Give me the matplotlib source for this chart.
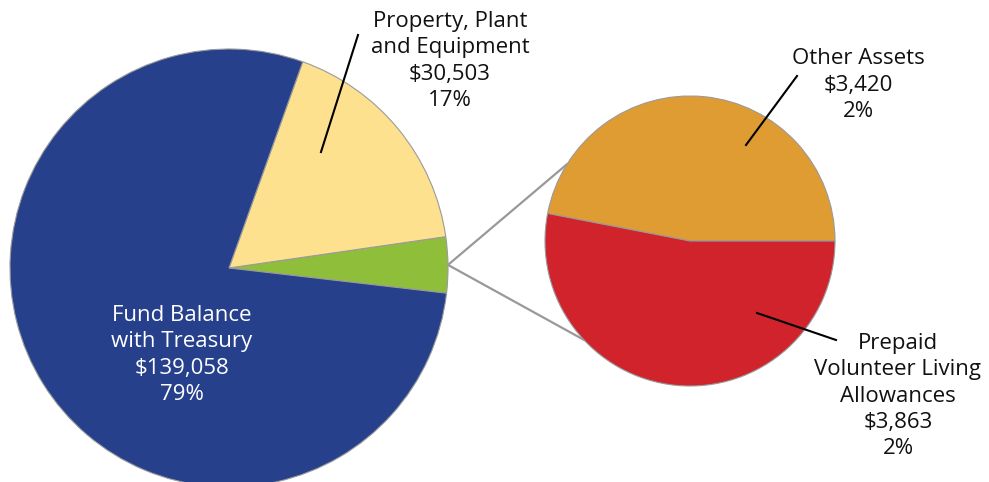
import numpy as np
import matplotlib
matplotlib.use("Agg")
import matplotlib.pyplot as plt

# main pie
main_labels = ["Fund Balance\nwith Treasury", "Property, Plant\nand Equipment"]
main_values = [139058, 30503]
# breakdown of the small slice
sub_labels = ["Other Assets", "Prepaid\nVolunteer Living\nAllowances"]
sub_values = [3420, 3863]

fund_color = "#26408C"
ppe_color = "#FEE18F"
other_color = "#8FBF3A"
sub_colors = ["#DE9C33", "#D0232B"]
edge = "#9A9A9A"

W, H = 989, 482
fig = plt.figure(figsize=(W / 100, H / 100), dpi=100)
ax = fig.add_axes([0, 0, 1, 1])

total = sum(main_values) + sum(sub_values)
small = sum(sub_values)

c1 = (229, H - 268)
r1 = 219
start1 = -6.6
ax.pie([small, main_values[1], main_values[0]], center=c1, radius=r1,
       colors=[other_color, ppe_color, fund_color], startangle=start1,
       counterclock=True, frame=True,
       wedgeprops=dict(edgecolor=edge, linewidth=0.8))

c2 = (690, H - 241)
r2 = 145
ax.pie(sub_values, center=c2, radius=r2, colors=sub_colors, startangle=0,
       counterclock=True, frame=True,
       wedgeprops=dict(edgecolor=edge, linewidth=0.8))

# connector lines
mid = np.deg2rad(start1 + 360 * small / total / 2)
p0 = (c1[0] + r1 * np.cos(mid), c1[1] + r1 * np.sin(mid))
for a in (148, 223):
    t = np.deg2rad(a)
    ax.plot([p0[0], c2[0] + r2 * np.cos(t)], [p0[1], c2[1] + r2 * np.sin(t)],
            color="#999999", lw=1.6, zorder=0.5)

font = "Open Sans"
fs = 16
ls = 1.33


def pct(v):
    return "{:.0f}%".format(100 * v / total)


def money(v):
    return "${:,}".format(v)


ax.text(450, H - 61, "{}\n{}\n{}".format(main_labels[1], money(main_values[1]), pct(main_values[1])),
        ha="center", va="center", fontsize=fs, family=font, linespacing=ls, color="#111111")
ax.plot([358, 321], [H - 35, H - 152], color="black", lw=1.5)

ax.text(182, H - 355, "{}\n{}\n{}".format(main_labels[0], money(main_values[0]), pct(main_values[0])),
        ha="center", va="center", fontsize=fs, family=font, linespacing=ls, color="white")

ax.text(858, H - 85, "{}\n{}\n{}".format(sub_labels[0], money(sub_values[0]), pct(sub_values[0])),
        ha="center", va="center", fontsize=fs, family=font, linespacing=ls, color="#111111")
ax.plot([797, 746], [H - 76, H - 145], color="black", lw=1.5)

ax.text(898, H - 396, "{}\n{}\n{}".format(sub_labels[1], money(sub_values[1]), pct(sub_values[1])),
        ha="center", va="center", fontsize=fs, family=font, linespacing=ls, color="#111111")
ax.plot([836, 757], [H - 340, H - 313], color="black", lw=1.5)

ax.set_xlim(0, W)
ax.set_ylim(0, H)
ax.set_aspect("equal")
ax.axis("off")

fig.savefig("out.png", dpi=100)
